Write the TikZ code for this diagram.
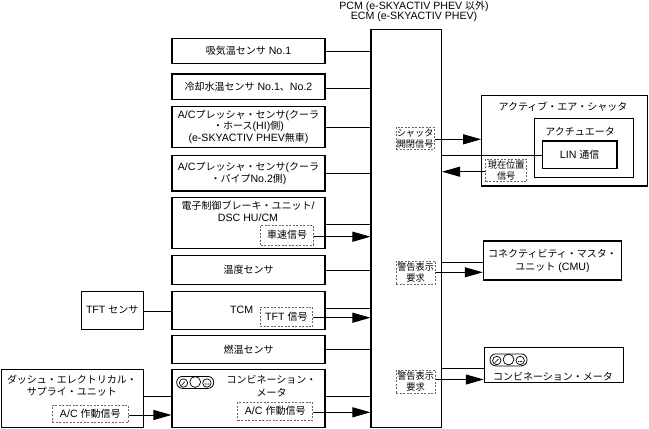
\documentclass[tikz,border=0pt]{standalone}
\usepackage{fontspec}
\setmainfont{Liberation Sans}[Scale=1.06]
\newfontfamily\jfont{Noto Sans CJK JP}
\usetikzlibrary{arrows.meta}
\newcommand\J[1]{{\jfont #1}}
\tikzset{
  every node/.style={font=\fontsize{10}{11.5}\selectfont},
  box/.style={draw, line width=1.1pt, inner sep=0pt, align=center},
  dbox/.style={draw=black!60, dashed, dash pattern=on 2pt off 1.5pt, line width=0.7pt, inner sep=0pt, align=center},
  sbox/.style={dbox, font=\fontsize{9.2}{11}\selectfont},
  txt/.style={inner sep=0pt, align=center},
  conn/.style={line width=0.8pt},
  arr/.style={line width=1pt, -{Triangle[length=18pt,width=10pt]}},
  meter/.pic={
    \draw[line width=0.8pt, rounded corners=5.8pt] (0,-5.6) -- (37,-5.6) -- (37,6.4) -- (0,6.4) -- cycle;
    \draw[line width=0.7pt] (6.8,1) circle (4.2pt);
    \draw[line width=0.7pt] (18.5,0) circle (5.4pt);
    \draw[line width=0.7pt] (30.2,1) circle (4.2pt);
    \draw[line width=0.6pt] (4.8,3.3) -- (8.3,-0.5);
    \fill (28.6,2) circle (0.6pt) (30.2,2) circle (0.6pt) (31.8,2) circle (0.6pt);
  }
}
\begin{document}
\begin{tikzpicture}[x=1pt,y=-1pt]
\useasboundingbox (0,0) rectangle (649,429);

% ECM
\node[box, minimum width=70.5pt, minimum height=398pt] (ecm) at (406.25,228.3) {};
\node[txt, font=\fontsize{10}{10}\selectfont] (ecmt) at (414,11) {PCM (e-SKYACTIV PHEV \J{以外})\\ECM (e-SKYACTIV PHEV)};

% left column
\node[box, minimum width=153pt, minimum height=25.3pt] (b1) at (248.5,50.7) {\J{吸気温センサ} No.1};
\node[box, minimum width=153pt, minimum height=25.5pt] (b2) at (248.5,86.7) {\J{冷却水温センサ} No.1\J{、}No.2};
\node[box, minimum width=153pt, minimum height=40.3pt] (b3) at (248.5,126.9) {A/C\J{プレッシャ・センサ}(\J{クーラ}\\\J{・ホース}(HI)\J{側})\\(e-SKYACTIV PHEV\J{無車})};
\node[box, minimum width=153pt, minimum height=35.3pt] (b4) at (248.5,173.3) {A/C\J{プレッシャ・センサ}(\J{クーラ}\\\J{・パイプ}No.2\J{側})};
\node[box, minimum width=153pt, minimum height=50.6pt] (b5) at (248.5,223) {};
\node[txt] (b5t) at (248,211.5) {\J{電子制御ブレーキ・ユニット}/\\DSC HU/CM};
\node[dbox, minimum width=52.6pt, minimum height=20pt] (spd) at (287,235) {\J{車速信号}};
\node[box, minimum width=153pt, minimum height=28.6pt] (b6) at (248.5,270) {\J{温度センサ}};
\node[box, minimum width=153pt, minimum height=38.3pt] (b7) at (248.5,310.2) {};
\node[txt] (b7t) at (241.7,310) {TCM};
\node[dbox, minimum width=52.7pt, minimum height=19.4pt] (tfts) at (286.35,317) {TFT \J{信号}};
\node[box, minimum width=153pt, minimum height=27.6pt] (b8) at (248.5,349.5) {\J{燃温センサ}};
\node[box, minimum width=153pt, minimum height=58.4pt] (b9) at (248.5,398.5) {};
\pic at (176.7,382) {meter};
\node[txt, font=\fontsize{10}{13}\selectfont] (b9t) at (271.5,386) {\J{コンビネーション・}\\\J{メータ}};
\node[dbox, minimum width=75pt, minimum height=18pt] (ac2) at (275.2,411) {A/C \J{作動信号}};

\node[box, minimum width=62.3pt, minimum height=38.3pt] (tft) at (112.2,310.2) {TFT \J{センサ}};
\node[box, minimum width=141.6pt, minimum height=58.4pt] (du) at (72.5,398.5) {};
\node[txt] (dut) at (72,385.8) {\J{ダッシュ・エレクトリカル・}\\\J{サプライ・ユニット}};
\node[dbox, minimum width=76pt, minimum height=17.4pt] (ac1) at (90.3,414) {A/C \J{作動信号}};

% right column
\node[box, minimum width=166pt, minimum height=90.3pt] (aas) at (564.7,140.85) {};
\node[txt] (aast) at (563,106.7) {\J{アクティブ・エア・シャッタ}};
\node[box, minimum width=99pt, minimum height=59pt] (act) at (583.8,147.8) {};
\node[txt] (actt) at (580,131.7) {\J{アクチュエータ}};
\node[box, minimum width=74.7pt, minimum height=27.3pt] (lin) at (579.65,154.65) {LIN \J{通信}};
\node[sbox, minimum width=38.3pt, minimum height=21.7pt] (sh) at (415.15,138.15) {\J{シャッタ}\\\J{開閉信号}};
\node[sbox, minimum width=41pt, minimum height=22.7pt] (pos) at (506.2,170.35) {\J{現在位置}\\\J{信号}};

\node[box, minimum width=138.4pt, minimum height=39pt, font=\fontsize{10}{13}\selectfont] (cmu) at (552.5,260.5) {\J{コネクティビティ・マスタ・}\\\J{ユニット} (CMU)};
\node[sbox, minimum width=39.3pt, minimum height=23pt] (w1) at (415.65,272.5) {\J{警告表示}\\\J{要求}};

\node[box, minimum width=139pt, minimum height=35pt] (cmr) at (553.8,364.8) {};
\pic at (490,359.5) {meter};
\node[txt] (cmrt) at (553,376.7) {\J{コンビネーション・メータ}};
\node[sbox, minimum width=39.3pt, minimum height=23.3pt] (w2) at (415.65,381.65) {\J{警告表示}\\\J{要求}};

% connectors left
\draw[conn] (b1.east |- 0,51.5) -- (ecm.west |- 0,51.5);
\draw[conn] (b2.east |- 0,88.3) -- (ecm.west |- 0,88.3);
\draw[conn] (b3.east |- 0,127.7) -- (ecm.west |- 0,127.7);
\draw[conn] (b4.east |- 0,173.3) -- (ecm.west |- 0,173.3);
\draw[conn] (b5.east |- 0,224.3) -- (ecm.west |- 0,224.3);
\draw[conn] (b6.east |- 0,270) -- (ecm.west |- 0,270);
\draw[conn] (b7.east |- 0,308.3) -- (ecm.west |- 0,308.3);
\draw[conn] (b8.east |- 0,349.3) -- (ecm.west |- 0,349.3);
\draw[conn] (b9.east |- 0,396.7) -- (ecm.west |- 0,396.7);
\draw[conn] (tft.east |- 0,311.7) -- (b7.west |- 0,311.7);
\draw[conn] (du.east |- 0,396.7) -- (b9.west |- 0,396.7);

\draw[arr] (spd.east |- 0,236.7) -- (ecm.west |- 0,236.7);
\draw[arr] (tfts.east |- 0,317.7) -- (ecm.west |- 0,317.7);
\draw[arr] (ac2.east |- 0,412.3) -- (ecm.west |- 0,412.3);
\draw[arr] (ac1.east |- 0,415) -- (b9.west |- 0,415);

% connectors right
\draw[arr] (sh.east |- 0,139.3) -- (aas.west |- 0,139.3);
\draw[conn] (ecm.east |- 0,155) -- (lin.west |- 0,155);
\draw[arr] (pos.west |- 0,171.7) -- (ecm.east |- 0,171.7);
\draw[conn] (ecm.east |- 0,262.3) -- (cmu.west |- 0,262.3);
\draw[arr] (w1.east |- 0,272.3) -- (cmu.west |- 0,272.3);
\draw[conn] (ecm.east |- 0,368.3) -- (cmr.west |- 0,368.3);
\draw[arr] (w2.east |- 0,379.5) -- (cmr.west |- 0,379.5);
\end{tikzpicture}
\end{document}
